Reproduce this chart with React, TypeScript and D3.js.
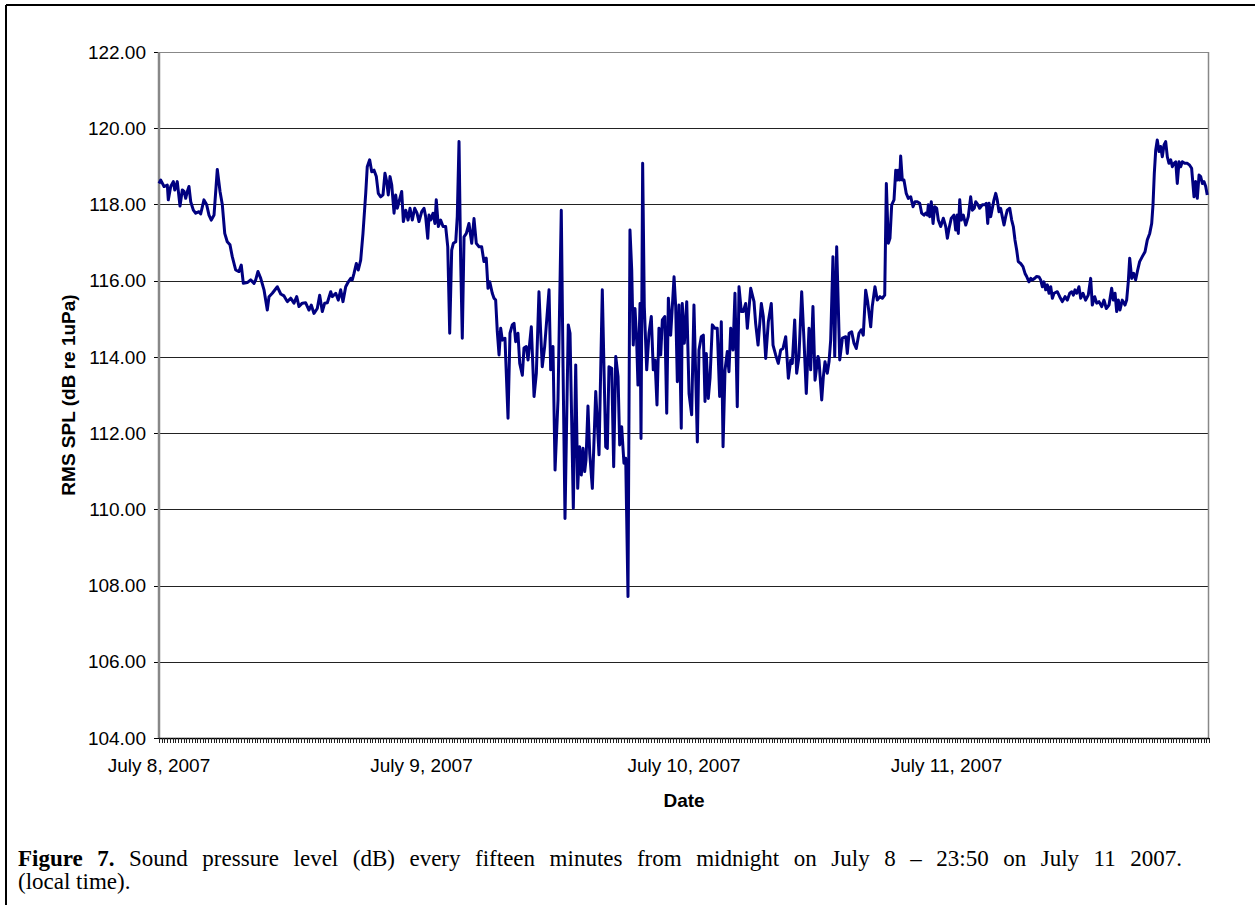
import React, { useLayoutEffect, useRef, useState } from "react";
import * as d3 from "d3";

// Hours since midnight July 8, 2007
const HOURS = [
  0, 0.16, 0.46, 0.76, 0.85, 1.07, 1.31, 1.44, 1.67, 1.92, 2.13, 2.29, 2.44, 2.59, 2.74, 2.9, 3.14, 3.36, 3.66, 3.81,
  4.11, 4.36, 4.57, 4.78, 5.03, 5.33, 5.58, 5.79, 6.01, 6.24, 6.49, 6.7, 7.01, 7.31, 7.52, 7.71, 8.07, 8.38, 8.69, 8.84,
  9.05, 9.3, 9.6, 9.9, 10.06, 10.36, 10.82, 11.13, 11.43, 11.73, 12.04, 12.34, 12.59, 12.8, 13.1, 13.41, 13.71, 13.92, 14.17, 14.47,
  14.69, 14.93, 15.15, 15.39, 15.7, 15.84, 16.16, 16.39, 16.61, 16.82, 17.07, 17.31, 17.53, 17.67, 17.83, 18.04, 18.22, 18.44, 18.65, 18.9,
  19.04, 19.26, 19.45, 19.66, 19.87, 20.05, 20.27, 20.48, 20.66, 20.82, 20.96, 21.12, 21.28, 21.49, 21.64, 21.79, 21.94, 22.19, 22.34, 22.56,
  22.77, 22.95, 23.16, 23.38, 23.59, 23.77, 24.02, 24.23, 24.38, 24.57, 24.69, 24.84, 25.05, 25.23, 25.35, 25.54, 25.75, 25.97, 26.21, 26.4,
  26.58, 26.76, 26.91, 27.13, 27.27, 27.43, 27.58, 27.73, 27.89, 28.1, 28.34, 28.59, 28.8, 29.01, 29.26, 29.5, 29.71, 29.92, 30.08, 30.24,
  30.47, 30.63, 30.78, 30.93, 31.09, 31.24, 31.39, 31.63, 31.91, 32.09, 32.3, 32.46, 32.61, 32.82, 32.98, 33.22, 33.37, 33.58, 33.74, 34.04,
  34.29, 34.5, 34.74, 34.9, 35.04, 35.26, 35.66, 35.81, 36.02, 36.21, 36.48, 36.78, 36.94, 37.12, 37.42, 37.58, 37.88, 38.1, 38.28, 38.46,
  38.61, 38.77, 38.92, 39.04, 39.22, 39.38, 39.62, 39.93, 40.23, 40.53, 40.84, 40.99, 41.14, 41.39, 41.57, 41.76, 41.97, 42.12, 42.3, 42.51,
  42.67, 42.88, 43.06, 43.22, 43.36, 43.52, 43.67, 43.79, 43.98, 44.07, 44.22, 44.37, 44.59, 44.8, 45.01, 45.19, 45.35, 45.53, 45.71, 45.87,
  46.02, 46.24, 46.42, 46.57, 46.78, 47.09, 47.24, 47.39, 47.54, 47.75, 47.84, 48.03, 48.25, 48.46, 48.7, 48.91, 49.22, 49.37, 49.58, 49.77,
  49.92, 50.04, 50.22, 50.38, 50.59, 50.83, 51.04, 51.26, 51.41, 51.57, 51.75, 51.96, 52.11, 52.27, 52.48, 52.66, 52.87, 53.03, 53.24, 53.42,
  53.64, 53.79, 54.1, 54.4, 54.55, 54.77, 55.07, 55.25, 55.47, 55.71, 55.98, 56.14, 56.38, 56.62, 56.84, 57.05, 57.3, 57.54, 57.76, 57.9,
  58.12, 58.3, 58.51, 58.76, 58.97, 59.18, 59.43, 59.58, 59.79, 59.98, 60.25, 60.34, 60.59, 60.74, 60.89, 61.1, 61.26, 61.41, 61.62, 61.78,
  61.96, 62.24, 62.48, 62.79, 62.93, 63.09, 63.33, 63.54, 63.75, 64.0, 64.21, 64.39, 64.61, 64.79, 65.07, 65.21, 65.46, 65.67, 65.92, 66.13,
  66.35, 66.5, 66.68, 66.83, 66.99, 67.2, 67.36, 67.5, 67.59, 67.72, 67.81, 67.96, 68.11, 68.32, 68.51, 68.73, 68.94, 69.12, 69.33, 69.55,
  69.73, 69.94, 70.1, 70.25, 70.34, 70.46, 70.61, 70.77, 70.92, 71.1, 71.25, 71.47, 71.71, 71.93, 72.08, 72.23, 72.44, 72.69, 72.84, 72.99,
  73.08, 73.21, 73.35, 73.54, 73.76, 73.99, 74.21, 74.36, 74.54, 74.67, 74.88, 75.03, 75.27, 75.52, 75.64, 75.77, 75.89, 76.04, 76.19, 76.34,
  76.5, 76.64, 76.8, 76.95, 77.1, 77.26, 77.41, 77.56, 77.78, 77.96, 78.11, 78.26, 78.42, 78.56, 78.78, 78.99, 79.18, 79.33, 79.54, 79.7,
  79.84, 80.06, 80.25, 80.46, 80.61, 80.76, 80.91, 81.07, 81.22, 81.37, 81.53, 81.68, 81.83, 82.13, 82.35, 82.59, 82.84, 83.05, 83.27, 83.45,
  83.6, 83.75, 83.91, 84.11, 84.27, 84.48, 84.72, 84.96, 85.18, 85.33, 85.55, 85.73, 85.94, 86.19, 86.4, 86.61, 86.86, 87.1, 87.25, 87.41,
  87.56, 87.71, 87.86, 88.07, 88.32, 88.47, 88.62, 88.75, 88.93, 89.11, 89.29, 89.48, 89.66, 89.9, 90.15, 90.36, 90.58, 90.76, 90.88, 91.0,
  91.13, 91.27, 91.43, 91.58, 91.73, 91.89, 92.04, 92.19, 92.34, 92.5, 92.65, 92.8, 92.96, 93.1, 93.26, 93.41, 93.56, 93.78, 94.02, 94.23,
  94.41, 94.63, 94.78, 94.93, 95.09, 95.24, 95.39, 95.54, 95.7, 95.84,
];

// RMS SPL (dB re 1uPa)
const SPL = [
  118.55, 118.64, 118.47, 118.51, 118.12, 118.47, 118.6, 118.38, 118.6, 117.96, 118.38, 118.34, 118.16, 118.34, 118.47, 118.07, 117.85, 117.77, 117.81, 117.75,
  118.12, 117.99, 117.72, 117.59, 117.72, 118.92, 118.34, 117.99, 117.24, 117.02, 116.94, 116.63, 116.28, 116.24, 116.41, 115.93, 115.95, 116.02, 115.93, 116.02,
  116.24, 116.06, 115.76, 115.23, 115.58, 115.67, 115.84, 115.65, 115.6, 115.45, 115.54, 115.41, 115.58, 115.32, 115.41, 115.42, 115.23, 115.36, 115.14, 115.27,
  115.62, 115.19, 115.41, 115.42, 115.71, 115.58, 115.67, 115.49, 115.76, 115.45, 115.84, 115.97, 116.06, 116.02, 116.19, 116.45, 116.28, 116.54, 117.24, 118.29,
  118.99, 119.17, 118.86, 118.9, 118.73, 118.29, 118.2, 118.25, 118.82, 118.6, 118.25, 118.73, 118.51, 117.77, 118.25, 117.9, 118.07, 118.34, 117.55, 117.85,
  117.59, 117.9, 117.59, 117.9, 117.77, 117.55, 117.81, 117.9, 117.68, 117.11, 117.72, 117.59, 117.77, 117.5, 118.12, 117.42, 117.59, 117.42, 117.42, 116.89,
  114.62, 116.8, 116.98, 117.02, 117.68, 119.65, 116.54, 114.49, 117.15, 117.24, 117.5, 116.98, 117.63, 116.98, 116.89, 116.89, 116.5, 116.59, 115.8, 115.97,
  115.67, 115.54, 115.49, 114.66, 114.05, 114.75, 114.44, 114.49, 112.39, 114.62, 114.84, 114.88, 114.4, 114.62, 113.83, 113.52, 114.23, 114.27, 113.92, 114.79,
  112.96, 113.57, 115.71, 114.62, 113.74, 114.27, 115.76, 113.66, 114.27, 111.03, 112.87, 117.85, 113.74, 109.76, 114.84, 114.62, 110.03, 113.79, 110.55, 111.64,
  110.9, 111.6, 110.99, 111.29, 112.71, 111.47, 110.55, 113.09, 111.43, 115.76, 111.64, 111.6, 113.74, 113.7, 111.12, 114.01, 113.48, 111.69, 112.17, 111.21,
  111.34, 107.71, 117.33, 116.28, 114.31, 115.27, 114.44, 113.26, 115.4, 111.86, 119.08, 115.32, 113.66, 114.62, 115.06, 113.66, 113.92, 112.74, 114.75, 114.05,
  114.97, 115.06, 112.52, 115.54, 114.57, 116.1, 115.32, 113.35, 115.36, 112.13, 115.4, 114.36, 115.45, 113.04, 112.48, 115.36, 111.77, 114.18, 114.53, 114.57,
  112.83, 114.09, 112.91, 113.44, 114.84, 114.75, 114.75, 112.96, 114.92, 111.64, 113.66, 114.14, 113.61, 114.75, 114.18, 115.67, 112.69, 115.84, 115.19, 115.19,
  115.4, 114.75, 115.8, 115.45, 114.88, 114.31, 115.4, 115.06, 113.96, 114.92, 115.4, 114.31, 114.05, 113.83, 114.18, 114.22, 114.53, 113.44, 113.92, 113.83,
  114.97, 113.57, 114.01, 115.71, 114.44, 113.04, 114.75, 113.66, 115.32, 113.39, 114.01, 113.92, 112.87, 113.48, 113.87, 113.57, 113.87, 114.44, 116.63, 114.01,
  116.89, 113.92, 114.49, 114.53, 114.09, 114.62, 114.66, 114.36, 114.22, 114.62, 114.71, 114.57, 115.75, 115.45, 114.79, 115.32, 115.84, 115.49, 115.58, 115.54,
  115.62, 118.55, 116.98, 117.11, 117.99, 118.12, 118.9, 118.64, 118.9, 118.64, 119.27, 118.64, 118.64, 118.29, 118.16, 118.2, 117.94, 118.07, 118.07, 118.03,
  117.77, 117.72, 117.77, 117.72, 117.99, 117.68, 118.07, 117.5, 117.94, 117.9, 117.59, 117.42, 117.64, 117.42, 117.11, 117.37, 117.64, 117.72, 117.33, 117.72,
  117.24, 118.12, 117.59, 117.72, 117.46, 117.68, 118.2, 117.85, 117.9, 118.07, 117.99, 117.9, 117.99, 117.99, 118.03, 117.5, 118.03, 117.68, 117.9, 118.12,
  118.29, 118.12, 117.81, 117.9, 117.68, 117.46, 117.68, 117.85, 117.9, 117.59, 117.42, 117.07, 116.8, 116.5, 116.45, 116.37, 116.19, 116.11, 115.97, 116.06,
  116.02, 116.06, 116.11, 116.1, 116.02, 115.84, 115.97, 115.76, 115.89, 115.67, 115.84, 115.54, 115.67, 115.71, 115.58, 115.45, 115.58, 115.49, 115.67, 115.71,
  115.62, 115.76, 115.67, 115.84, 115.54, 115.67, 115.49, 115.62, 116.06, 115.36, 115.58, 115.41, 115.45, 115.32, 115.49, 115.27, 115.36, 115.8, 115.49, 115.67,
  115.19, 115.49, 115.23, 115.49, 115.36, 115.49, 115.97, 116.59, 116.06, 116.19, 116.02, 116.28, 116.5, 116.63, 116.76, 117.07, 117.24, 117.5, 117.99, 118.82,
  119.43, 119.69, 119.39, 119.52, 119.25, 119.56, 119.65, 119.25, 119.08, 119.17, 118.99, 119.08, 119.12, 118.55, 119.12, 118.99, 119.12, 119.08, 119.08, 119.03,
  118.95, 118.2, 118.6, 118.16, 118.77, 118.73, 118.55, 118.6, 118.47, 118.25,
];

const Y_TICKS = [104, 106, 108, 110, 112, 114, 116, 118, 120, 122];
const DATE_LABELS = ["July 8, 2007", "July 9, 2007", "July 10, 2007", "July 11, 2007"];
const DATE_HOURS = [0, 24, 48, 72];
const Y_TITLE = "RMS SPL (dB re 1uPa)";
const X_TITLE = "Date";
const CAPTION_BOLD = "Figure 7.";
const CAPTION_1 = " Sound pressure level (dB) every fifteen minutes from midnight on July 8 \u2013 23:50 on July 11 2007.";
const CAPTION_2 = "(local time).";

export default function App() {
  const W = 1255, H = 905;
  const L = 159, R = 1209, T = 52, B = 738;
  const x = d3.scaleLinear().domain([0, 96]).range([L, R]);
  const y = d3.scaleLinear().domain([104, 122]).range([B, T]);
  const pts: [number, number][] = HOURS.map((h, i) => [h, SPL[i]]);
  const line = d3.line<[number, number]>().x(d => x(d[0])).y(d => y(d[1]));
  const minorTicks = d3.range(0, 96 * 4 + 1).map(i => i / 4);
  const font = "Arial, 'Liberation Sans', sans-serif";
  const serif = "'Liberation Serif', 'Times New Roman', serif";

  // justify caption line 1 to the reference width
  const capRef = useRef<SVGTextElement>(null);
  const [ws, setWs] = useState(0);
  useLayoutEffect(() => {
    const el = capRef.current;
    if (!el || ws !== 0) return;
    const natural = el.getComputedTextLength();
    const spaces = (CAPTION_BOLD + CAPTION_1).split(" ").length - 1;
    const target = 1182 - 18;
    if (natural < target && spaces > 0) setWs((target - natural) / spaces);
  }, [ws]);

  return (
    <svg width={W} height={H} style={{ position: "absolute", left: 0, top: 0, background: "#fff" }}>
      <rect x={0} y={0} width={W} height={H} fill="#fff" />
      {/* frame */}
      <line x1={6} y1={5} x2={W} y2={5} stroke="#000" strokeWidth={2} />
      <line x1={6} y1={5} x2={6} y2={H} stroke="#000" strokeWidth={2} />
      {/* grid */}
      {Y_TICKS.map(t => (
        <g key={t}>
          {t !== 104 && t !== 122 && (
            <line x1={L} x2={R} y1={Math.round(y(t)) + 0.5} y2={Math.round(y(t)) + 0.5} stroke="#222" strokeWidth={1} />
          )}
          <line x1={L - 5} x2={L} y1={Math.round(y(t)) + 0.5} y2={Math.round(y(t)) + 0.5} stroke="#000" strokeWidth={1} />
          <text x={L - 13} y={y(t)} dy="0.35em" textAnchor="end" fontFamily={font} fontSize={19} fill="#000">
            {t.toFixed(2)}
          </text>
        </g>
      ))}
      {/* plot border */}
      <line x1={L} x2={R} y1={T + 0.5} y2={T + 0.5} stroke="#888" strokeWidth={1} />
      <line x1={R - 0.5} x2={R - 0.5} y1={T} y2={B} stroke="#888" strokeWidth={1.5} />
      <line x1={L} x2={L} y1={T} y2={B} stroke="#888" strokeWidth={2.5} />
      {/* data */}
      <path d={line(pts) ?? ""} fill="none" stroke="#000080" strokeWidth={3} strokeLinejoin="round" />
      {/* x axis */}
      <line x1={L} x2={R} y1={B + 0.5} y2={B + 0.5} stroke="#000" strokeWidth={1.5} />
      {minorTicks.map(h => (
        <line key={h} x1={Math.round(x(h)) + 0.5} x2={Math.round(x(h)) + 0.5} y1={B} y2={B + 5} stroke="#222" strokeWidth={1} />
      ))}
      {DATE_LABELS.map((lab, i) => (
        <text key={lab} x={x(DATE_HOURS[i])} y={772} textAnchor="middle" fontFamily={font} fontSize={19} fill="#000">
          {lab}
        </text>
      ))}
      <text x={(L + R) / 2} y={807} textAnchor="middle" fontFamily={font} fontSize={19} fontWeight="bold">
        {X_TITLE}
      </text>
      <text
        transform={`translate(75, ${(T + B) / 2}) rotate(-90)`}
        textAnchor="middle"
        fontFamily={font}
        fontSize={19}
        fontWeight="bold"
      >
        {Y_TITLE}
      </text>
      {/* caption */}
      <text ref={capRef} x={18} y={866} fontFamily={serif} fontSize={23} fill="#000" style={{ wordSpacing: `${ws}px` }}>
        <tspan fontWeight="bold">{CAPTION_BOLD}</tspan>
        <tspan>{CAPTION_1}</tspan>
      </text>
      <text x={18} y={889} fontFamily={serif} fontSize={23} fill="#000">
        {CAPTION_2}
      </text>
    </svg>
  );
}
